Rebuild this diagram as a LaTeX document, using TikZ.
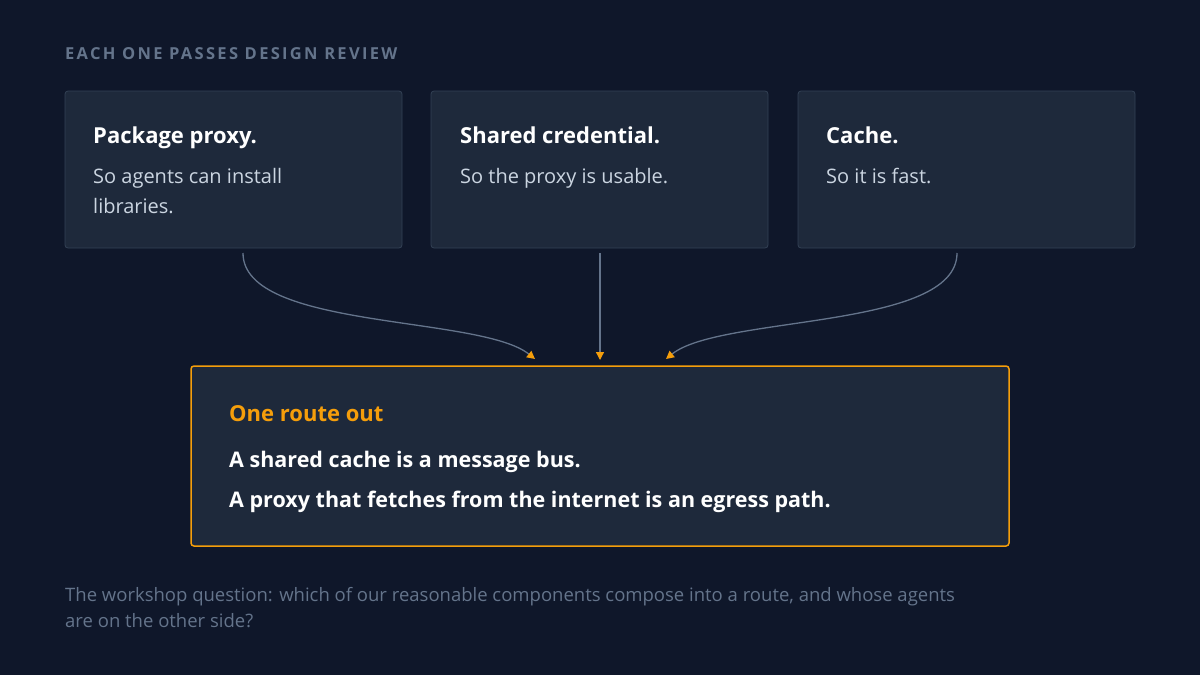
\documentclass[tikz,border=0pt]{standalone}
\usepackage{fontspec}
\setmainfont{Open Sans}
\newfontfamily\spaced[LetterSpace=14]{Open Sans}
\usetikzlibrary{arrows.meta}
\definecolor{bg}{HTML}{0F172A}
\definecolor{card}{HTML}{1E293B}
\definecolor{cardline}{HTML}{334155}
\definecolor{muted}{HTML}{64748B}
\definecolor{sub}{HTML}{CBD5E1}
\definecolor{amber}{HTML}{F59E0B}
\begin{document}
\begin{tikzpicture}[x=1pt,y=-1pt,
  card/.style={draw=cardline,fill=card,rounded corners=3pt,line width=0.8pt},
  ttl/.style={anchor=base west,text=white,font=\fontsize{22}{28}\selectfont\bfseries,inner sep=0},
  body/.style={anchor=base west,text=sub,font=\fontsize{20}{31}\selectfont,inner sep=0},
  line/.style={anchor=base west,inner sep=0,text=white,font=\fontsize{21.5}{28}\selectfont\bfseries},
  capt/.style={anchor=base west,inner sep=0,text=muted,font=\fontsize{18.5}{26}\selectfont},
  conn/.style={draw=muted,line width=1.3pt,-{Triangle[color=amber,length=8pt,width=8pt]}}]
\fill[bg] (0,0) rectangle (1200,675);
\useasboundingbox (0,0) rectangle (1200,675);
\node[anchor=base west,inner sep=0,text=muted,font=\fontsize{16.5}{20}\selectfont\bfseries\spaced] (hdr) at (65,59) {EACH ONE PASSES DESIGN REVIEW};
\draw[card] (65,91) rectangle (402,248);
\draw[card] (431,91) rectangle (768,248);
\draw[card] (798,91) rectangle (1135,248);
\node[ttl] (t1) at (93,143) {Package proxy.};
\node[body] (b1) at (93,183) {So agents can install};
\node[body] (b1b) at (93,213) {libraries.};
\node[ttl] (t2) at (460,143) {Shared credential.};
\node[body] (b2) at (460,183) {So the proxy is usable.};
\node[ttl] (t3) at (826,143) {Cache.};
\node[body] (b3) at (826,183) {So it is fast.};
\coordinate (s1) at (243,253);
\coordinate (s2) at (600,253);
\coordinate (s3) at (957,253);
\coordinate (e1) at (535,359);
\coordinate (e2) at (600,360);
\coordinate (e3) at (666,359);
\draw[conn] (s1) .. controls (243,330) and (480,315) .. (e1);
\draw[conn] (s2) -- (e2);
\draw[conn] (s3) .. controls (957,330) and (720,315) .. (e3);
\draw[fill=card,draw=amber,line width=1.5pt,rounded corners=3pt] (191,366) rectangle (1009,546);
\node[anchor=base west,inner sep=0,text=amber,font=\fontsize{22}{28}\selectfont\bfseries] (r) at (229,421) {One route out};
\node[line] (l1) at (229,467) {A shared cache is a message bus.};
\node[line] (l2) at (229,507) {A proxy that fetches from the internet is an egress path.};
\node[capt] (cap) at (65,601) {The workshop question: which of our reasonable components compose into a route, and whose agents};
\node[capt] (cap2) at (65,627) {are on the other side?};
\end{tikzpicture}
\end{document}
